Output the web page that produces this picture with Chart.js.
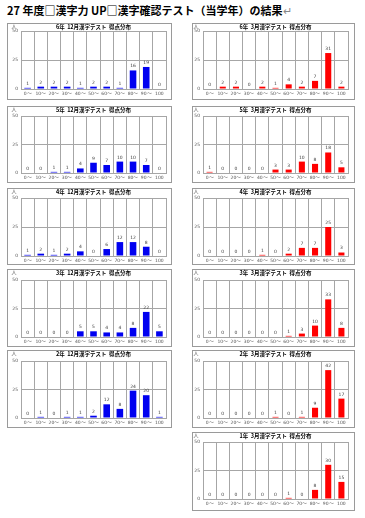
<!DOCTYPE html>
<html>
<head>
<meta charset="utf-8">
<script src="https://cdn.jsdelivr.net/npm/chart.js@4"></script>
<style>
  body { margin: 0; background: #fff; width: 365px; height: 518px; overflow: hidden; position: relative; }
  #pageTitle { position: absolute; left: 7px; top: 2px; font: bold 11px "Noto Sans CJK JP"; color: #000; white-space: nowrap; }
  #pageTitle .mark { color: #888; font-weight: normal; }
  .frame { position: absolute; border: 1px solid #9a9a9a; box-sizing: border-box; }
  canvas { position: absolute; }
</style>
</head>
<body>
<div id="pageTitle">27 年度□漢字力 UP□漢字確認テスト（当学年）の結果<span class="mark">↵</span></div>
<script>
// score bands and y ticks
const scoreBands = ['0〜', '10〜', '20〜', '30〜', '40〜', '50〜', '60〜', '70〜', '80〜', '90〜', '100'];
const yTicks = [0, 25, 50];

// number of pupils per band
const g6Dec = [1, 2, 2, 2, 1, 2, 2, 1, 16, 19, 0];
const g6Mar = [0, 2, 2, 0, 2, 1, 4, 2, 7, 31, 2];
const g5Dec = [0, 0, 1, 1, 4, 9, 7, 10, 10, 7, 0];
const g5Mar = [1, 0, 0, 0, 0, 3, 3, 10, 8, 18, 5];
const g4Dec = [1, 2, 1, 2, 4, 0, 6, 12, 12, 8, 0];
const g4Mar = [0, 0, 0, 0, 1, 0, 2, 7, 7, 25, 3];
const g3Dec = [0, 0, 0, 0, 5, 5, 4, 4, 8, 22, 5];
const g3Mar = [0, 0, 0, 0, 0, 0, 1, 3, 10, 33, 8];
const g2Dec = [0, 1, 0, 1, 1, 2, 12, 8, 24, 20, 1];
const g2Mar = [0, 0, 0, 0, 0, 1, 0, 1, 9, 42, 17];
const g1Mar = [0, 0, 0, 0, 0, 0, 1, 0, 8, 30, 15];

const titles = {
  g6Dec: '6年  12月漢字テスト  得点分布', g6Mar: '6年  3月漢字テスト  得点分布',
  g5Dec: '5年  12月漢字テスト  得点分布', g5Mar: '5年  3月漢字テスト  得点分布',
  g4Dec: '4年  12月漢字テスト  得点分布', g4Mar: '4年  3月漢字テスト  得点分布',
  g3Dec: '3年  12月漢字テスト  得点分布', g3Mar: '3年  3月漢字テスト  得点分布',
  g2Dec: '2年  12月漢字テスト  得点分布', g2Mar: '2年  3月漢字テスト  得点分布',
  g1Mar: '1年  3月漢字テスト  得点分布'
};

// layout: rows (box top, box bottom, y of 50 line, y of 0 line) and columns
const rows = [
  [23, 100, 31, 89],
  [106, 183, 116, 173],
  [188, 265, 198, 256],
  [269, 347, 280, 337],
  [350, 428, 361, 418],
  [432, 511, 442, 499]
];
const cols = {
  left:  { x0: 7,   x1: 172, p0: 21,  p1: 166, color: '#0000f0' },
  right: { x0: 192, x1: 355, p0: 203, p1: 348, color: '#ff0000' }
};

const panels = [
  ['g6Dec', g6Dec, 0, 'left'], ['g6Mar', g6Mar, 0, 'right'],
  ['g5Dec', g5Dec, 1, 'left'], ['g5Mar', g5Mar, 1, 'right'],
  ['g4Dec', g4Dec, 2, 'left'], ['g4Mar', g4Mar, 2, 'right'],
  ['g3Dec', g3Dec, 3, 'left'], ['g3Mar', g3Mar, 3, 'right'],
  ['g2Dec', g2Dec, 4, 'left'], ['g2Mar', g2Mar, 4, 'right'],
  ['g1Mar', g1Mar, 5, 'right']
];

const gridGray = '#a6a6a6';

const valueLabels = {
  id: 'valueLabels',
  afterDatasetsDraw(chart) {
    const ctx = chart.ctx;
    const meta = chart.getDatasetMeta(0);
    const vals = chart.data.datasets[0].data;
    ctx.save();
    ctx.font = '4.5px "DejaVu Sans"';
    ctx.fillStyle = '#404040';
    ctx.textAlign = 'center';
    ctx.textBaseline = 'bottom';
    meta.data.forEach((bar, i) => {
      ctx.fillText(vals[i], bar.x, bar.y - 2);
    });
    ctx.restore();
  }
};

const panelTitle = {
  id: 'panelTitle',
  afterDraw(chart, args, opts) {
    const ctx = chart.ctx;
    const area = chart.chartArea;
    ctx.save();
    ctx.fillStyle = '#000';
    ctx.textAlign = 'center';
    ctx.textBaseline = 'middle';
    ctx.font = 'bold 5.5px "Noto Sans CJK JP"';
    ctx.fillText(opts.text, (area.left + area.right) / 2, 4);
    ctx.fillStyle = '#555';
    ctx.font = '5px "Noto Sans CJK JP"';
    ctx.fillText('人', area.left - 7, 3);
    ctx.restore();
  }
};

panels.forEach(([key, values, r, side]) => {
  const [bt, bb, t50, z0] = rows[r];
  const c = cols[side];
  const w = c.x1 - c.x0, h = bb - bt;

  const frame = document.createElement('div');
  frame.className = 'frame';
  Object.assign(frame.style, { left: c.x0 + 'px', top: bt + 'px', width: w + 'px', height: h + 'px' });
  document.body.appendChild(frame);

  const cv = document.createElement('canvas');
  cv.width = w; cv.height = h;
  Object.assign(cv.style, { left: c.x0 + 'px', top: bt + 'px', width: w + 'px', height: h + 'px' });
  document.body.appendChild(cv);

  new Chart(cv, {
    type: 'bar',
    data: {
      labels: scoreBands,
      datasets: [{
        data: values,
        backgroundColor: c.color,
        borderWidth: 0,
        barPercentage: side === 'left' ? 0.5 : 0.46,
        categoryPercentage: 1
      }]
    },
    options: {
      responsive: false,
      animation: false,
      devicePixelRatio: 1,
      layout: { padding: { top: t50 - bt, right: c.x1 - c.p1, left: 0, bottom: 0 } },
      plugins: {
        legend: { display: false },
        tooltip: { enabled: false },
        panelTitle: { text: titles[key] }
      },
      scales: {
        x: {
          afterFit(scale) { scale.height = bb - z0; },
          grid: { color: gridGray, offset: true, drawTicks: false },
          border: { color: gridGray },
          ticks: { color: '#555', font: { size: 4.5, family: 'DejaVu Sans' }, padding: 2, maxRotation: 0, autoSkip: false }
        },
        y: {
          min: 0, max: 50,
          afterFit(scale) { scale.width = c.p0 - c.x0; },
          afterBuildTicks(scale) { scale.ticks = yTicks.map(v => ({ value: v })); },
          grid: { color: gridGray, drawTicks: false },
          border: { color: gridGray },
          ticks: { color: '#555', font: { size: 4.5, family: 'DejaVu Sans' }, padding: 3 }
        }
      }
    },
    plugins: [valueLabels, panelTitle]
  });
});
</script>
</body>
</html>
